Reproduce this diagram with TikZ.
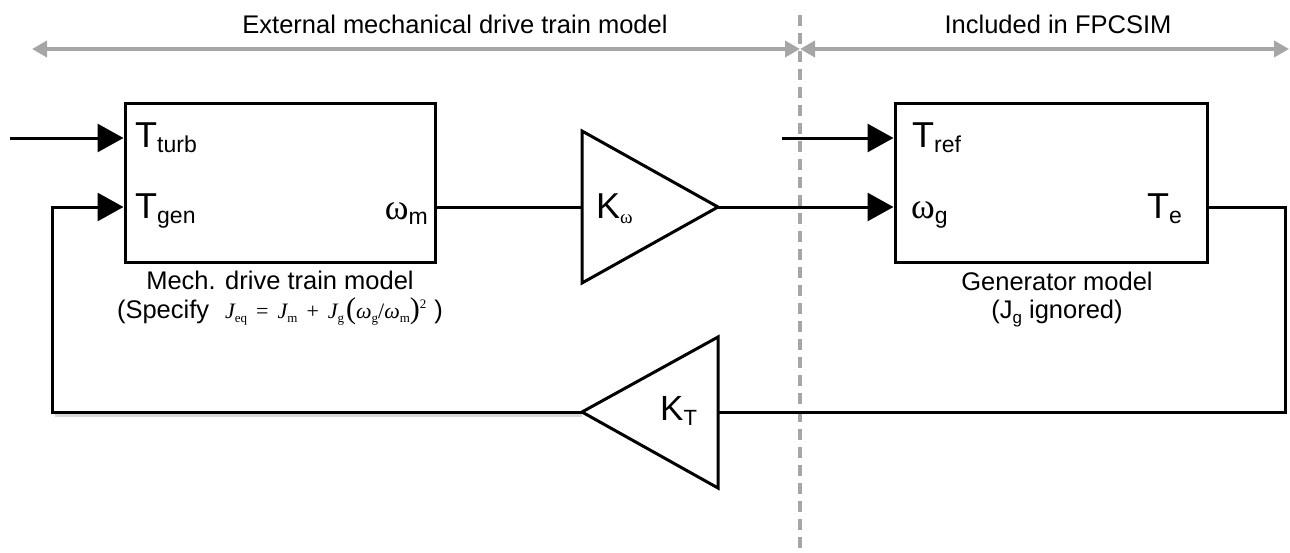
\documentclass[tikz,border=0pt]{standalone}
\usepackage{fontspec}
\setmainfont{Liberation Sans}
\newfontfamily\tms{Liberation Serif}
\usetikzlibrary{arrows.meta}
\definecolor{grayc}{RGB}{166,166,166}
\newcommand\bigsym[2]{{\fontsize{36}{36}\selectfont #1}\raisebox{-5pt}{\fontsize{23}{23}\selectfont #2}}
\newcommand\omsym[2]{{\tms\fontsize{36}{36}\selectfont ω}\raisebox{-5pt}{\fontsize{23}{23}\selectfont #2}}
\newcommand\eqsub[1]{\raisebox{-4.5pt}{\upshape\fontsize{13}{13}\selectfont #1}}
\newcommand\myeqn{{\tms\fontsize{22}{22}\selectfont\itshape J\eqsub{eq}\hspace{9pt}\upshape=\hspace{9pt}\itshape J\eqsub{m}\hspace{9pt}\upshape+\hspace{9pt}\itshape J\eqsub{g}\hspace{2pt}{\upshape\fontsize{30}{30}\selectfont(}ω\eqsub{g}\upshape/\itshape ω\eqsub{m}{\upshape\fontsize{30}{30}\selectfont)}\raisebox{10pt}{\upshape\fontsize{13}{13}\selectfont 2}}}
\begin{document}
\begin{tikzpicture}[x=1pt,y=-1pt,
  blk/.style={line width=3pt,draw=black},
  sig/.style={blk,-{Triangle[length=26pt,width=28pt]}},
  blockbox/.style={draw=black,line width=3pt,inner sep=0pt,minimum height=159pt},
  lbl/.style={inner sep=0pt,font=\fontsize{25.5}{30}\selectfont},
  sym/.style={inner sep=0pt},
  grline/.style={draw=grayc,line width=4pt},
  grarr/.style={grline,{Triangle[length=15pt,width=16pt]}-{Triangle[length=15pt,width=16pt]}},
  shadowline/.style={line width=3pt,draw=black!30,opacity=0.5}
]
\useasboundingbox (0,0) rectangle (1290,552);

% region annotations
\coordinate (divtop) at (800,15);
\coordinate (divbot) at (800,552);
\draw[draw=grayc,line width=3.5pt,dash pattern=on 11pt off 7pt] (divtop) -- (divbot);
\coordinate (leftend) at (32,49);
\coordinate (mid) at (800,49);
\coordinate (rightend) at (1289,49);
\draw[grarr] (leftend) -- (mid);
\draw[grarr] (mid) -- (rightend);
\node[lbl,anchor=base] (exttxt) at (455,33) {External mechanical drive train model};
\node[lbl,anchor=base] (inctxt) at (1058,33) {Included in FPCSIM};

% blocks
\node[blockbox,minimum width=310pt] (mech) at (280,182.5) {};
\node[blockbox,minimum width=312pt] (gen) at (1051,182.5) {};

% gain triangles
\coordinate (kwin) at (582,207);
\coordinate (kwout) at (718,207);
\draw[blk,line join=miter] (582,131) -- (582,283) -- (kwout) -- cycle;
\coordinate (ktin) at (718,412);
\coordinate (ktout) at (582,412);
\draw[blk,line join=miter] (718,337) -- (718,488) -- (ktout) -- cycle;

% levels
\coordinate (ysig) at (0,207);

% connectors
\coordinate (tturbsrc) at (10,138);
\draw[sig] (tturbsrc) -- (tturbsrc -| mech.west);
\coordinate (fbl) at (52,412);
\draw[shadowline] ([shift={(3pt,-3pt)}]fbl) -- ([shift={(0pt,-3pt)}]ktout);
\draw[sig,line join=miter] (ktout) -- (fbl) |- (mech.west |- ysig);
\draw[blk] (mech.east |- ysig) -- (kwin);
\draw[sig] (kwout) -- (gen.west |- ysig);
\coordinate (trefsrc) at (782,138);
\draw[sig] (trefsrc) -- (trefsrc -| gen.west);
\coordinate (ter) at (1285,207);
\draw[blk,line join=miter] (gen.east |- ysig) -- (ter) |- (ktin);

% labels inside blocks
\node[sym,anchor=base west] (lturb) at (135,147) {\bigsym{T}{turb}};
\node[sym,anchor=base west] (lgen) at (135,218) {\bigsym{T}{gen}};
\node[sym,anchor=base east] (lwm) at (428,219) {\omsym{ω}{m}};
\node[sym,anchor=base west] (lkw) at (596,218) {{\fontsize{36}{36}\selectfont K}\raisebox{-5pt}{\tms\fontsize{19}{19}\selectfont ω}};
\node[sym,anchor=base west] (lref) at (912,147) {\bigsym{T}{ref}};
\node[sym,anchor=base west] (lwg) at (911,218) {\omsym{ω}{g}};
\node[sym,anchor=base west] (lte) at (1147,218) {\bigsym{T}{e}};
\node[sym,anchor=base west] (lkt) at (660,420) {{\fontsize{35}{35}\selectfont K}\raisebox{-5pt}{\fontsize{22}{22}\selectfont T}};

% captions
\node[lbl,anchor=base] (mechcap) at (280,289) {Mech. drive train model};
\node[lbl,anchor=base] (mecheq) at (280,318) {(Specify\hspace{16pt}\myeqn\hspace{8pt})};
\node[lbl,anchor=base] (gencap) at (1057,290) {Generator model};
\node[lbl,anchor=base] (genj) at (1057,318) {(J\raisebox{-5pt}{\fontsize{17}{17}\selectfont g} ignored)};
\end{tikzpicture}
\end{document}
